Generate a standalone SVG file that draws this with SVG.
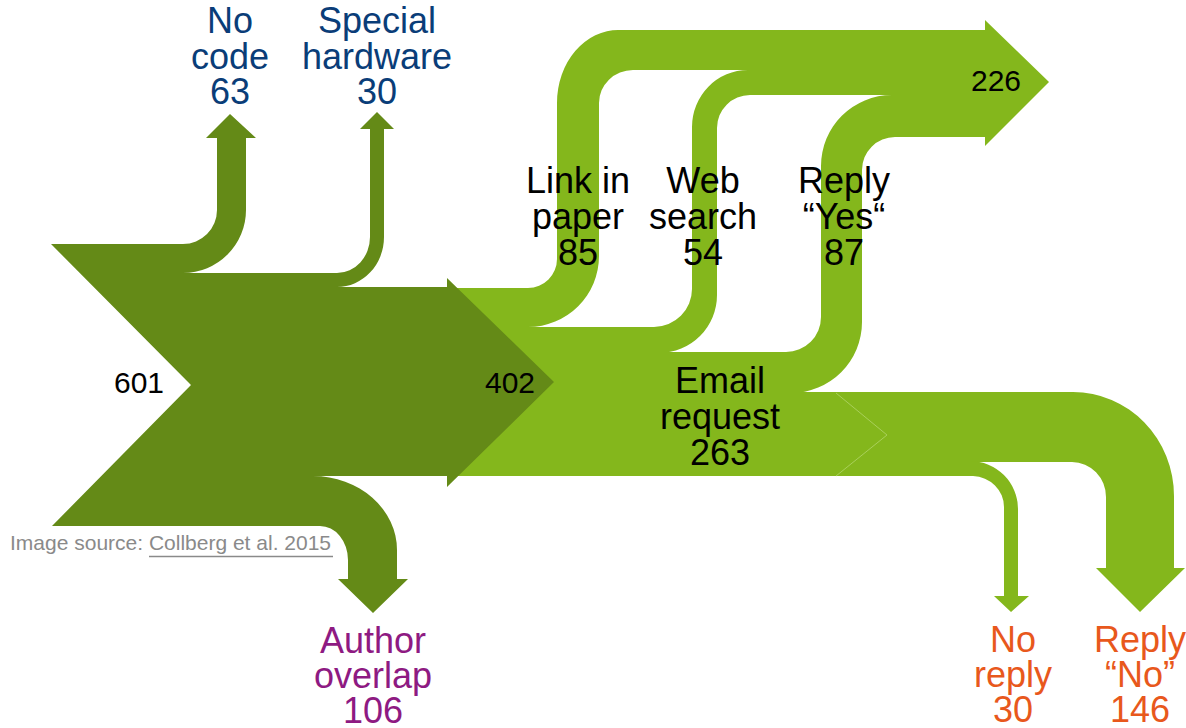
<svg xmlns="http://www.w3.org/2000/svg" width="1186" height="728" viewBox="0 0 1186 728">
<style>
.lg{fill:#84b71c}
.dg{fill:#648a17}
.t{font-family:"Liberation Sans",Arial,sans-serif;font-size:36px;text-anchor:middle}
.n{font-family:"Liberation Sans",Arial,sans-serif;font-size:30px;text-anchor:middle;fill:#000}
.blue{fill:#0a3d78}
.purple{fill:#8e1a82}
.orange{fill:#e8581c}
.black{fill:#000}
</style>
<rect width="1186" height="728" fill="#fff"/>
<g id="connectors">
<path class="lg" d="M447,288 H528 A29,29 0 0 0 557,259 V103 A61,73 0 0 1 619,30 H990 V70 H633 A34,33 0 0 0 599,103 V256 A71,71 0 0 1 528,327 H447 Z"/>
<path class="lg" d="M447,327 H654 A38,38 0 0 0 692,289 V127 A56,57 0 0 1 748,70 H990 V95 H750 A33,33 0 0 0 717,128 V295 A58,58 0 0 1 659,353 H447 Z"/>
<path class="lg" d="M447,352 H786 A35,35 0 0 0 821,317 V166 A71,71 0 0 1 892,95 H990 V137 H895 A33,33 0 0 0 862,170 V322 A71,71 0 0 1 791,393 H447 Z"/>
<polygon class="lg" points="985,137 985,146 1049,82 985,20 985,30 986,30 986,137"/>
<path class="lg" d="M447,392 H1073 A101,104 0 0 1 1174,496 V568 H1185 L1140,612 L1096,568 H1106 V497 A34,35 0 0 0 1072,462 H447 Z"/>
<path class="lg" d="M447,461 H970 A48,48 0 0 1 1018,509 V596 H1029 L1011,612 L994,596 H1004 V507 A32,31 0 0 0 973,476 H447 Z"/>
<polyline points="836,393 887,435 836,476" fill="none" stroke="#a9d05a" stroke-width="1"/>
<path class="dg" d="M51,244 H183 A34,34 0 0 0 217,210 V138 H206 L230,114 L256,138 H246 V210 A63,63 0 0 1 183,273 H337 A33,36 0 0 0 370,237 V129 H360 L377,112 L394,129 H384 V237 A47,50 0 0 1 337,287 H447 V278 L554,382 L447,487 V476 H313 A84,74 0 0 1 397,550 V579 H408 L373,613 L338,579 H348 V560 A28,34 0 0 0 320,526 H52 L191,385 Z"/>
</g>
<g id="source"><text class="n" x="139" y="393" font-size="29">601</text></g>
<g id="remaining"><text class="n" x="510" y="393">402</text></g>
<g id="no-code"><text class="t blue"><tspan x="230" y="33">No</tspan><tspan x="230" y="69">code</tspan><tspan x="230" y="104">63</tspan></text></g>
<g id="special-hardware"><text class="t blue"><tspan x="377" y="33">Special</tspan><tspan x="377" y="69">hardware</tspan><tspan x="377" y="104">30</tspan></text></g>
<g id="author-overlap"><text class="t purple"><tspan x="373" y="653">Author</tspan><tspan x="373" y="688">overlap</tspan><tspan x="373" y="723">106</tspan></text></g>
<g id="link-in-paper"><text class="t black"><tspan x="578" y="193">Link in</tspan><tspan x="578" y="229">paper</tspan><tspan x="578" y="265">85</tspan></text></g>
<g id="web-search"><text class="t black"><tspan x="703" y="193">Web</tspan><tspan x="703" y="229">search</tspan><tspan x="703" y="265">54</tspan></text></g>
<g id="reply-yes"><text class="t black"><tspan x="844" y="193">Reply</tspan><tspan x="844" y="229">“Yes“</tspan><tspan x="844" y="265">87</tspan></text></g>
<g id="email-request"><text class="t black"><tspan x="720" y="393">Email</tspan><tspan x="720" y="429">request</tspan><tspan x="720" y="465">263</tspan></text></g>
<g id="code-found"><text class="n" x="996" y="91">226</text></g>
<g id="no-reply"><text class="t orange"><tspan x="1013" y="652">No</tspan><tspan x="1013" y="687">reply</tspan><tspan x="1013" y="722">30</tspan></text></g>
<g id="reply-no"><text class="t orange"><tspan x="1140" y="652">Reply</tspan><tspan x="1140" y="687">“No”</tspan><tspan x="1140" y="722">146</tspan></text></g>
<g id="image-source">
<text x="10" y="550" font-family="'Liberation Sans',Arial,sans-serif" font-size="21" fill="#8a8a8a">Image source: Collberg et al. 2015</text>
<line x1="149" y1="556.5" x2="333" y2="556.5" stroke="#8a8a8a" stroke-width="1.5"/>
</g>
</svg>
